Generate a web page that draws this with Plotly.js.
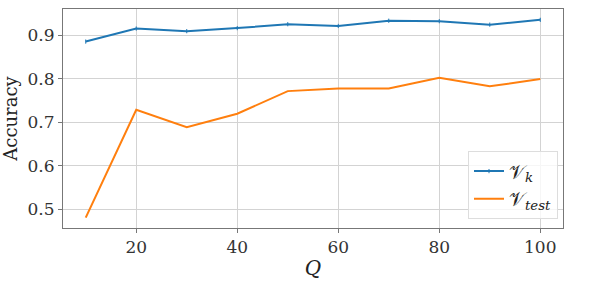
<!DOCTYPE html>
<html><head><meta charset="utf-8">
<script src="https://cdn.plot.ly/plotly-3.0.1.min.js"></script>
<style>body{margin:0;padding:0;background:#fff}#chart{width:598px;height:288px}</style>
</head><body><div id="chart"></div>
<script>
const Q = [10, 20, 30, 40, 50, 60, 70, 80, 90, 100];
const accVk = [0.886, 0.916, 0.910, 0.917, 0.926, 0.922, 0.934, 0.933, 0.925, 0.936];
const accVtest = [0.481, 0.729, 0.689, 0.720, 0.772, 0.778, 0.778, 0.803, 0.783, 0.800];
const xTicks = [20, 40, 60, 80, 100];
const yTicks = [0.5, 0.6, 0.7, 0.8, 0.9];

const serif = "DejaVu Serif, Liberation Serif, serif";
const traces = [
  {x: Q, y: accVk, mode: 'lines+markers', name: '𝒱<sub><i>k</i></sub>',
   line: {color: '#1f77b4', width: 2}, marker: {symbol: 'line-ns', size: 3, color: '#1f77b4', line: {width: 1, color: '#1f77b4'}}},
  {x: Q, y: accVtest, mode: 'lines', name: '𝒱<sub><i>test</i></sub>',
   line: {color: '#ff7f0e', width: 2}}
];
const axisCommon = {
  showline: true, linecolor: '#777', linewidth: 1, mirror: true,
  showgrid: true, gridcolor: '#d3d3d3', gridwidth: 1, zeroline: false,
  ticks: 'outside', ticklen: 4, tickcolor: '#777',
  tickfont: {family: serif, size: 17, color: '#333'}
};
const layout = {
  width: 598, height: 288,
  margin: {l: 63, r: 35, t: 9, b: 60},
  paper_bgcolor: '#fff', plot_bgcolor: '#fff',
  font: {family: serif, color: '#222'},
  xaxis: Object.assign({}, axisCommon, {range: [5.5, 104.5], tickvals: xTicks,
    title: {text: '<i>Q</i>', font: {family: serif, size: 20, color: '#222'}, standoff: 4}}),
  yaxis: Object.assign({}, axisCommon, {range: [0.457, 0.961], tickvals: yTicks, ticktext: yTicks.map(v => v.toFixed(1)),
    title: {text: 'Accuracy', font: {family: serif, size: 18, color: '#222'}, standoff: 6}}),
  legend: {x: 0.99, y: 0.04, xanchor: 'right', yanchor: 'bottom',
    bgcolor: 'rgba(255,255,255,0.8)', bordercolor: '#ddd', borderwidth: 1,
    font: {family: serif, size: 19, color: '#222'}, tracegroupgap: 0},
  showlegend: true
};
Plotly.newPlot('chart', traces, layout, {staticPlot: true, displayModeBar: false});
</script></body></html>
